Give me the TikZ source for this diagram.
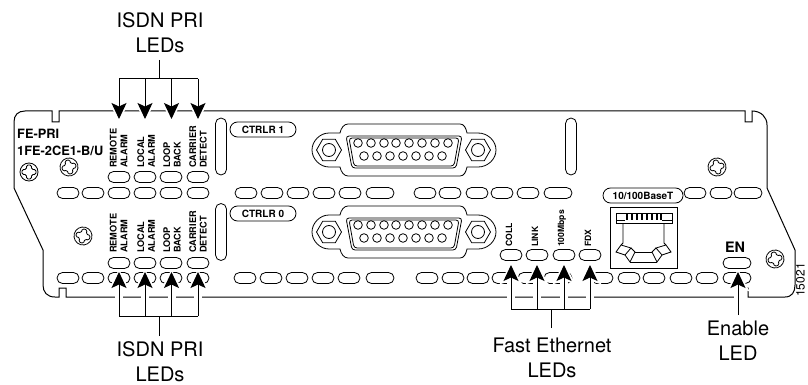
\documentclass[tikz,border=0pt]{standalone}
\usepackage{fontspec}
\setmainfont{TeX Gyre Heros}
\usetikzlibrary{arrows.meta, shapes.misc, shapes.geometric}

\tikzset{
	led/.style={draw, rounded rectangle, inner sep=0, minimum width=22pt, minimum height=11pt, line width=0.8pt},
	ledwide/.style={led, minimum width=28pt},
	slotbox/.style={led, rotate=90, minimum width=57pt},
	pill/.style={led, minimum height=15pt, font=\bfseries\fontsize{10}{10}\selectfont},
	ledtext/.style={rotate=90, anchor=west, align=left, inner sep=0, font=\bfseries\fontsize{9.2}{10.7}\selectfont},
	ethtext/.style={ledtext, font=\bfseries\fontsize{8.6}{10}\selectfont},
	callout/.style={align=center, inner sep=0, font=\fontsize{20}{25}\selectfont},
	arrowline/.style={line width=1pt},
	ledarrow/.style={arrowline, -{Stealth[length=16pt, width=15pt, inset=3.5pt]}},
	halo/.style={white, line width=8pt, -{Stealth[length=22pt, width=22pt, inset=3.5pt]}, shorten >=-3pt},
	screw/.pic={
		\draw[line width=0.8pt] (0,0) circle (9);
		\draw[line width=0.8pt, rounded corners=1.5pt] (-2.5,-7) -- (2.5,-7) -- (2.5,-2.5) -- (7,-2.5) -- (7,2.5) -- (2.5,2.5) -- (2.5,7) -- (-2.5,7) -- (-2.5,2.5) -- (-7,2.5) -- (-7,-2.5) -- (-2.5,-2.5) -- cycle;
	},
}

\begin{document}
\begin{tikzpicture}[x=1pt, y=-1pt]
	\useasboundingbox (0,0) rectangle (808,385);

	% panel
	\draw[line width=1pt] (14,122) .. controls (14,115) and (18,111) .. (25,111) -- (52,111) -- (52,122) -- (59,122) -- (59,111)
		-- (745,111) -- (745,122) -- (752,122) -- (752,111) .. controls (761,111) and (767,117) .. (767,125) -- (767,188)
		-- (795,250) -- (795,285) .. controls (795,292) and (792,297) .. (785,297) -- (748,297) -- (748,288) -- (741,288) -- (741,297)
		-- (66,297) -- (66,288) -- (59,288) -- (59,297) -- (55,297) .. controls (47,297) and (43,292) .. (43,285) -- (43,250)
		-- (14,188) -- cycle;

	\node[inner sep=0, anchor=west, font=\bfseries\fontsize{12.8}{17}\selectfont, align=left] (fepri) at (17,142.5) {FE-PRI\\1FE-2CE1-B/U};

	\pic at (29,172) {screw};
	\pic[rotate=15] at (69,167) {screw};
	\pic[rotate=-15] at (83,236) {screw};
	\pic[rotate=15] at (717,167) {screw};
	\pic[rotate=15] at (775,259) {screw};

	% rows of leds
	\foreach \px in {68,93,119,145,171,198,246,272,298,324,350,425,450,477,502,528,695,721}
		\node[led] at (\px,193) {};
	\foreach \px in {380,558,748}
		\node[ledwide] at (\px,193) {};
	\foreach \px in {68,93,119,145,171,198,245,271,297,323,349,427,453,478,503,529,602,629,654,681,707}
		\node[led] at (\px,278) {};
	\foreach \px in {380,558,737}
		\node[ledwide] at (\px,278) {};

	\node[led] (alarmA) at (119,177) {};
	\node[led] (alarmB) at (145,177) {};
	\node[led] (loopA) at (171,177) {};
	\node[led] (detectA) at (198,177) {};
	\node[led] (alarmC) at (119,263) {};
	\node[led] (alarmD) at (145,263) {};
	\node[led] (loopB) at (171,263) {};
	\node[led] (detectB) at (198,263) {};
	\node[led] (coll) at (511,255) {};
	\node[led] (link) at (537,255) {};
	\node[led] (mbps) at (564,255) {};
	\node[led] (fdx) at (590,255) {};
	\node[ledwide] (en) at (737,263) {};

	\node[ledtext] (remoteT) at (118.5,168) {REMOTE\\ALARM};
	\node[ledtext] (localT) at (146,168) {LOCAL\\ALARM};
	\node[ledtext] (loopT) at (172,168) {LOOP\\BACK};
	\node[ledtext] (carrierT) at (198,168) {CARRIER\\DETECT};
	\node[ledtext] (remoteB) at (118.5,253) {REMOTE\\ALARM};
	\node[ledtext] (localB) at (146,253) {LOCAL\\ALARM};
	\node[ledtext] (loopB) at (172,253) {LOOP\\BACK};
	\node[ledtext] (carrierB) at (198,253) {CARRIER\\DETECT};

	\node[ethtext] (colltext) at (509,247) {COLL};
	\node[ethtext] (linktext) at (535,247) {LINK};
	\node[ethtext] (mbpstext) at (562,247) {100Mbps};
	\node[ethtext] (fdxtext) at (588,247) {FDX};
	\node[inner sep=0, font=\bfseries\fontsize{14.4}{14.4}\selectfont] (entext) at (735,247) {EN};

	\node[slotbox] (slotA) at (221,146.5) {};
	\node[slotbox] (slotB) at (221,232) {};
	\node[slotbox] (slotC) at (571,146.5) {};

	\node[pill, minimum width=66pt] (ctrlrA) at (263,129.5) {CTRLR 1};
	\node[pill, minimum width=66pt] (ctrlrB) at (263,213.5) {CTRLR 0};
	\node[pill, minimum width=80pt] (base) at (643,195.5) {10/100BaseT};

	% serial connectors
	\foreach \py in {150,232} {
		\begin{scope}[yshift=-\py pt, line width=0.8pt]
			\draw (329,-17) -- (340,-17) .. controls (341,-22) and (344,-26) .. (348,-26) -- (460,-26)
				.. controls (464,-26) and (466,-22) .. (467,-17) -- (478,-17) .. controls (488,-17) and (496,-9) .. (496,0)
				.. controls (496,9) and (488,17) .. (478,17) -- (467,17) .. controls (466,22) and (464,26) .. (460,26) -- (348,26)
				.. controls (344,26) and (341,22) .. (340,17) -- (329,17) .. controls (320,17) and (312,9) .. (312,0)
				.. controls (312,-9) and (320,-17) .. (329,-17) -- cycle;
			\draw[rounded corners=3pt] (346,-14) -- (462,-14) -- (456,18) -- (352,18) -- cycle;
			\draw[rounded corners=3pt] (349,-12) -- (459,-12) -- (454,16) -- (354,16) -- cycle;
			\node[draw, regular polygon, regular polygon sides=6, inner sep=0, minimum size=25pt] at (329,0) {};
			\node[draw, regular polygon, regular polygon sides=6, inner sep=0, minimum size=25pt] at (478,0) {};
			\draw (329,0) circle (6.5);
			\draw (478,0) circle (6.5);
			\foreach \px in {358,371,384,396,409,422,435,448}
				\draw (\px,-7) circle (4.3);
			\foreach \px in {364,377,390,403,416,429,442}
				\draw (\px,6) circle (4.3);
		\end{scope}
	}

	% ethernet port
	\begin{scope}[line width=0.8pt]
		\node[draw, inner sep=0, minimum width=67pt, minimum height=61pt] (rj) at (643.5,237.5) {};
		\draw (616,213) rectangle (672,223);
		\draw (616,220) -- (625,220) (662,220) -- (672,220);
		\draw (627,213) -- (661,213);
		\foreach \px in {627,632,637,642,647,652,657,661}
			\draw[line width=1.8pt] (\px,214) -- (\px,220);
		\draw (623,223) -- (623,243) -- (621,245) -- (616,252) -- (625,255) -- (631,248) -- (621,245);
		\draw (664,223) -- (664,243) -- (666,245) -- (671,252) -- (662,255) -- (656,248) -- (666,245);
		\draw (631,248) -- (635,252) -- (630,262) -- (625,255);
		\draw (656,248) -- (652,252) -- (657,262) -- (662,255);
		\draw (635,252) -- (652,252);
		\draw (630,262) -- (657,262);
	\end{scope}

	\node[rotate=90, inner sep=0, anchor=base, font=\fontsize{12}{12}\selectfont] (figid) at (804.5,280) {15021};

	% callouts
	\node[callout] (isdnT) at (160,33) {ISDN PRI\\LEDs};
	\node[callout] (isdnB) at (160,362) {ISDN PRI\\LEDs};
	\node[callout] (fast) at (552,357.5) {Fast Ethernet\\LEDs};
	\node[callout] (enable) at (738,340.5) {Enable\\LED};

	\coordinate (stemT) at (159,60);
	\coordinate (busT) at (159,79);
	\coordinate (stemB) at (159,336);
	\coordinate (busB) at (159,316);
	\coordinate (stemF) at (551,328);
	\coordinate (busF) at (551,309);
	\coordinate (stemE) at (738,315);

	\coordinate (tipA) at (119,119);
	\coordinate (tipB) at (145,119);
	\coordinate (tipC) at (171.5,119);
	\coordinate (tipD) at (198,119);
	\coordinate (tipE) at (119,272);
	\coordinate (tipF) at (145,272);
	\coordinate (tipG) at (171.5,272);
	\coordinate (tipH) at (198,272);
	\coordinate (tipI) at (511,265);
	\coordinate (tipJ) at (537,265);
	\coordinate (tipK) at (564,265);
	\coordinate (tipL) at (590,265);
	\coordinate (tipM) at (738,272);

	% white gaps round the arrows
	\draw[halo] (tipA |- busT) -- (tipA);
	\draw[halo] (tipB |- busT) -- (tipB);
	\draw[halo] (tipC |- busT) -- (tipC);
	\draw[halo] (tipD |- busT) -- (tipD);
	\draw[halo] (tipE |- busB) -- (tipE);
	\draw[halo] (tipF |- busB) -- (tipF);
	\draw[halo] (tipG |- busB) -- (tipG);
	\draw[halo] (tipH |- busB) -- (tipH);
	\draw[halo] (tipI |- busF) -- (tipI);
	\draw[halo] (tipJ |- busF) -- (tipJ);
	\draw[halo] (tipK |- busF) -- (tipK);
	\draw[halo] (tipL |- busF) -- (tipL);
	\draw[halo] (stemE) -- (tipM);

	% arrows
	\draw[arrowline] (stemT) -- (busT);
	\draw[arrowline] (tipA |- busT) -- (tipD |- busT);
	\draw[ledarrow] (tipA |- busT) -- (tipA);
	\draw[ledarrow] (tipB |- busT) -- (tipB);
	\draw[ledarrow] (tipC |- busT) -- (tipC);
	\draw[ledarrow] (tipD |- busT) -- (tipD);

	\draw[arrowline] (stemB) -- (busB);
	\draw[arrowline] (tipE |- busB) -- (tipH |- busB);
	\draw[ledarrow] (tipE |- busB) -- (tipE);
	\draw[ledarrow] (tipF |- busB) -- (tipF);
	\draw[ledarrow] (tipG |- busB) -- (tipG);
	\draw[ledarrow] (tipH |- busB) -- (tipH);

	\draw[arrowline] (stemF) -- (busF);
	\draw[arrowline] (tipI |- busF) -- (tipL |- busF);
	\draw[ledarrow] (tipI |- busF) -- (tipI);
	\draw[ledarrow] (tipJ |- busF) -- (tipJ);
	\draw[ledarrow] (tipK |- busF) -- (tipK);
	\draw[ledarrow] (tipL |- busF) -- (tipL);

	\draw[ledarrow] (stemE) -- (tipM);
\end{tikzpicture}
\end{document}
